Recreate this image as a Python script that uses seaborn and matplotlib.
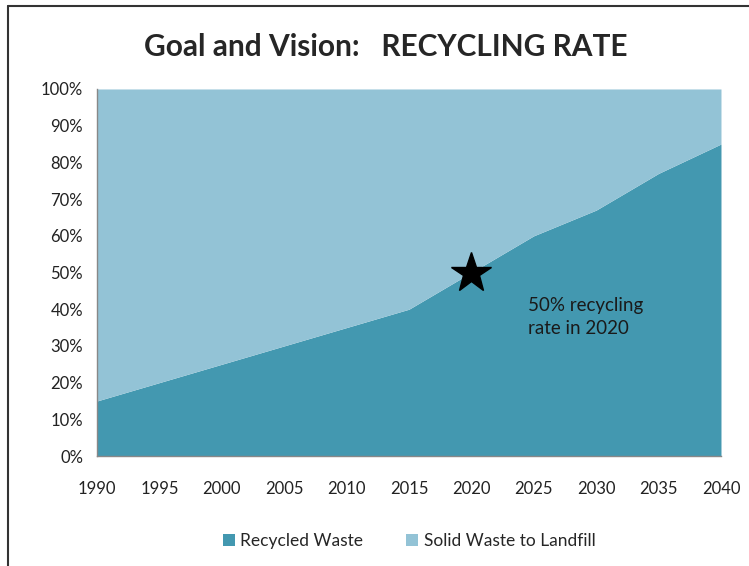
import matplotlib
matplotlib.use("Agg")
import matplotlib.pyplot as plt
import matplotlib.lines as mlines
import seaborn as sns
import pandas as pd
from matplotlib.ticker import PercentFormatter

# data
years = [1990, 1995, 2000, 2005, 2010, 2015, 2020, 2025, 2030, 2035, 2040]
recycled = [15, 20, 25, 30, 35, 40, 50, 60, 67, 77, 85]
landfill = [100 - r for r in recycled]
series = ["Recycled Waste", "Solid Waste to Landfill"]
colors = ["#4398B0", "#93C3D6"]

df = pd.DataFrame({"Year": years, series[0]: recycled, series[1]: landfill})

sns.set_style("white")
plt.rcParams["font.family"] = ["Lato", "DejaVu Sans"]

fig = plt.figure(figsize=(7.49, 5.66), dpi=100)
ax = fig.add_axes([0.1295, 0.1943, 0.8331, 0.6485])

ax.stackplot(df["Year"], df[series[0]], df[series[1]],
             colors=colors, labels=series, linewidth=0)
# boundary line via seaborn (invisible, keeps scales consistent)
sns.lineplot(data=df, x="Year", y=series[0], ax=ax, color=colors[0], linewidth=0)

ax.set_xlim(1990, 2040)
ax.set_ylim(0, 100)
ax.set_xticks(years)
ax.set_yticks(range(0, 101, 10))
ax.yaxis.set_major_formatter(PercentFormatter(decimals=0))
ax.tick_params(axis="both", labelsize=12, colors="#222222", length=0, pad=10)
ax.tick_params(axis="x", pad=18)
ax.set_xlabel("")
ax.set_ylabel("")
for side in ["top", "right"]:
    ax.spines[side].set_visible(False)
for side in ["left", "bottom"]:
    ax.spines[side].set_color("#888888")
    ax.spines[side].set_linewidth(1)

# star marker and note
ax.plot([2020], [50], marker="*", markersize=30, color="black", zorder=5)
ax.text(2024.5, 37.9, "50% recycling\nrate in 2020", fontsize=13.5, color="#1a1a1a",
        va="center", linespacing=1.45)

fig.suptitle("Goal and Vision:   RECYCLING RATE", fontsize=21.5, fontweight="bold",
             x=0.515, y=0.941)

ax.legend(loc="upper center", bbox_to_anchor=(0.5, -0.167), ncol=2, frameon=False,
          fontsize=12.5, handlelength=0.7, handleheight=0.7, columnspacing=2.5,
          handletextpad=0.3)

# figure frame (left and top edges)
fig.add_artist(mlines.Line2D([0.011, 0.011], [0, 0.99], color="#333333", lw=1.5))
fig.add_artist(mlines.Line2D([0.011, 1], [0.99, 0.99], color="#333333", lw=1.5))

fig.savefig("out.png", dpi=100)
